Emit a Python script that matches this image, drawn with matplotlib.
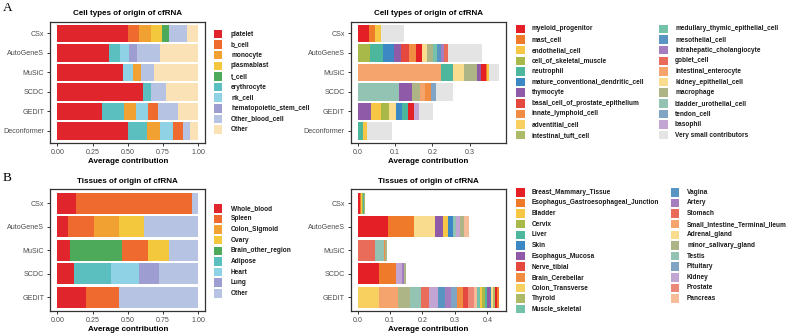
import matplotlib
matplotlib.use("Agg")
import matplotlib.pyplot as plt
from matplotlib.patches import Rectangle

plt.rcParams['font.family'] = ['Liberation Sans', 'DejaVu Sans']

W, H = 788, 336

# ---------------- data ----------------
methods_A = ["CSx", "AutoGeneS", "MuSiC", "SCDC", "GEDIT", "Deconformer"]
methods_B = ["CSx", "AutoGeneS", "MuSiC", "SCDC", "GEDIT"]

major_cells = ["platelet", "b_cell", "monocyte", "plasmablast", "t_cell", "erythrocyte",
               "nk_cell", "hematopoietic_stem_cell", "Other_blood_cell", "Other"]
major_cell_colors = ["#E0262C", "#EE6A2F", "#F0A132", "#F4C83C", "#4CAA5A", "#5BBFC0",
                     "#8FD2E6", "#9D9DD2", "#B7C3E2", "#FBE1B6"]

cellA_CSx = [("platelet", 0.504), ("b_cell", 0.078), ("monocyte", 0.080), ("plasmablast", 0.083),
             ("t_cell", 0.050), ("Other_blood_cell", 0.125), ("Other", 0.080)]
cellA_AutoGeneS = [("platelet", 0.369), ("erythrocyte", 0.076), ("nk_cell", 0.066),
                   ("hematopoietic_stem_cell", 0.057), ("Other_blood_cell", 0.161), ("Other", 0.271)]
cellA_MuSiC = [("platelet", 0.463), ("nk_cell", 0.071), ("monocyte", 0.059),
               ("Other_blood_cell", 0.092), ("Other", 0.315)]
cellA_SCDC = [("platelet", 0.610), ("erythrocyte", 0.052), ("Other_blood_cell", 0.111), ("Other", 0.227)]
cellA_GEDIT = [("platelet", 0.319), ("erythrocyte", 0.154), ("monocyte", 0.085), ("nk_cell", 0.083),
               ("b_cell", 0.076), ("Other_blood_cell", 0.142), ("Other", 0.141)]
cellA_Deconformer = [("platelet", 0.499), ("erythrocyte", 0.139), ("monocyte", 0.090), ("nk_cell", 0.095),
                     ("b_cell", 0.071), ("Other_blood_cell", 0.047), ("Other", 0.059)]

minor_cells = ["myeloid_progenitor", "mast_cell", "endothelial_cell", "cell_of_skeletal_muscle",
               "neutrophil", "mature_conventional_dendritic_cell", "thymocyte",
               "basal_cell_of_prostate_epithelium", "innate_lymphoid_cell", "adventitial_cell",
               "intestinal_tuft_cell", "medullary_thymic_epithelial_cell", "mesothelial_cell",
               "intrahepatic_cholangiocyte", "goblet_cell", "intestinal_enterocyte",
               "kidney_epithelial_cell", "macrophage", "bladder_urothelial_cell", "tendon_cell",
               "basophil", "Very small contributors"]
shared_palette = ["#E41F26", "#EF7A2A", "#F6C644", "#A8B94A", "#4DB79E", "#3B88C4", "#8F5AA8",
                  "#E5483E", "#F18C43", "#F8D060", "#ADBA68", "#75C2AA", "#5895C3", "#A57EC0",
                  "#E96B5A", "#F5A46E", "#F9DC8D", "#ADB486", "#93C3B2", "#80A5C4", "#C2A5D2",
                  "#EC8878", "#F6BB98"]
very_small_color = "#E4E4E4"

cellB_CSx = [("myeloid_progenitor", 0.029), ("mast_cell", 0.017), ("endothelial_cell", 0.016),
             ("Very small contributors", 0.063)]
cellB_AutoGeneS = [("cell_of_skeletal_muscle", 0.033), ("neutrophil", 0.034),
                   ("mature_conventional_dendritic_cell", 0.030), ("thymocyte", 0.020),
                   ("basal_cell_of_prostate_epithelium", 0.020), ("innate_lymphoid_cell", 0.018),
                   ("myeloid_progenitor", 0.016), ("kidney_epithelial_cell", 0.015),
                   ("macrophage", 0.015), ("medullary_thymic_epithelial_cell", 0.012),
                   ("mesothelial_cell", 0.011), ("intrahepatic_cholangiocyte", 0.008),
                   ("goblet_cell", 0.010), ("Very small contributors", 0.090)]
cellB_MuSiC = [("intestinal_enterocyte", 0.224), ("neutrophil", 0.031), ("kidney_epithelial_cell", 0.030),
               ("macrophage", 0.033), ("thymocyte", 0.013), ("myeloid_progenitor", 0.012),
               ("mast_cell", 0.004), ("endothelial_cell", 0.005), ("Very small contributors", 0.027)]
cellB_SCDC = [("bladder_urothelial_cell", 0.110), ("thymocyte", 0.036), ("macrophage", 0.020),
              ("intestinal_enterocyte", 0.015), ("innate_lymphoid_cell", 0.015), ("tendon_cell", 0.013),
              ("Very small contributors", 0.047)]
cellB_GEDIT = [("thymocyte", 0.035), ("endothelial_cell", 0.028), ("cell_of_skeletal_muscle", 0.022),
               ("kidney_epithelial_cell", 0.018), ("mature_conventional_dendritic_cell", 0.015),
               ("neutrophil", 0.018), ("myeloid_progenitor", 0.015), ("basophil", 0.014),
               ("Very small contributors", 0.036)]
cellB_Deconformer = [("neutrophil", 0.013), ("endothelial_cell", 0.011), ("Very small contributors", 0.067)]

major_tissues = ["Whole_blood", "Spleen", "Colon_Sigmoid", "Ovary", "Brain_other_region",
                 "Adipose", "Heart", "Lung", "Other"]
major_tissue_colors = ["#E0262C", "#EE6A2F", "#F0A132", "#F4C83C", "#4CAA5A", "#5BBFC0",
                       "#8FD2E6", "#9D9DD2", "#B7C3E2"]

tisA_CSx = [("Whole_blood", 0.132), ("Spleen", 0.825), ("Other", 0.043)]
tisA_AutoGeneS = [("Whole_blood", 0.073), ("Spleen", 0.189), ("Colon_Sigmoid", 0.175),
                  ("Ovary", 0.177), ("Other", 0.386)]
tisA_MuSiC = [("Whole_blood", 0.090), ("Brain_other_region", 0.369), ("Spleen", 0.187),
              ("Ovary", 0.144), ("Other", 0.210)]
tisA_SCDC = [("Whole_blood", 0.118), ("Adipose", 0.260), ("Heart", 0.201), ("Lung", 0.139), ("Other", 0.282)]
tisA_GEDIT = [("Whole_blood", 0.201), ("Spleen", 0.236), ("Other", 0.563)]

minor_tissues = ["Breast_Mammary_Tissue", "Esophagus_Gastroesophageal_Junction", "Bladder", "Cervix",
                 "Liver", "Skin", "Esophagus_Mucosa", "Nerve_tibial", "Brain_Cerebellar",
                 "Colon_Transverse", "Thyroid", "Muscle_skeletal", "Vagina", "Artery", "Stomach",
                 "Small_Intestine_Terminal_Ileum", "Adrenal_gland", "minor_salivary_gland", "Testis",
                 "Pituitary", "Kidney", "Prostate", "Pancreas"]

tisB_CSx = [("Breast_Mammary_Tissue", 0.007), ("Esophagus_Gastroesophageal_Junction", 0.004),
            ("Bladder", 0.003), ("Cervix", 0.003), ("Liver", 0.002), ("Thyroid", 0.003)]
tisB_AutoGeneS = [("Breast_Mammary_Tissue", 0.095), ("Esophagus_Gastroesophageal_Junction", 0.080),
                  ("Adrenal_gland", 0.064), ("Esophagus_Mucosa", 0.023), ("Bladder", 0.017),
                  ("Skin", 0.015), ("Testis", 0.010), ("Kidney", 0.012),
                  ("minor_salivary_gland", 0.013), ("Pancreas", 0.014)]
tisB_MuSiC = [("Stomach", 0.052), ("Testis", 0.029), ("Brain_Cerebellar", 0.004),
              ("minor_salivary_gland", 0.006)]
tisB_SCDC = [("Breast_Mammary_Tissue", 0.065), ("Esophagus_Gastroesophageal_Junction", 0.054),
             ("Kidney", 0.018), ("Artery", 0.007), ("minor_salivary_gland", 0.006)]
tisB_GEDIT = [("Colon_Transverse", 0.066), ("Small_Intestine_Terminal_Ileum", 0.057),
              ("minor_salivary_gland", 0.038), ("Testis", 0.034), ("Stomach", 0.026),
              ("Kidney", 0.027), ("Vagina", 0.022), ("Artery", 0.018), ("Pituitary", 0.018),
              ("Brain_Cerebellar", 0.019), ("Nerve_tibial", 0.016), ("Prostate", 0.017),
              ("Pancreas", 0.011), ("Muscle_skeletal", 0.008), ("Bladder", 0.008), ("Cervix", 0.008),
              ("Liver", 0.007), ("Esophagus_Mucosa", 0.007), ("Skin", 0.006), ("Adrenal_gland", 0.006),
              ("Thyroid", 0.006), ("Breast_Mammary_Tissue", 0.005),
              ("Esophagus_Gastroesophageal_Junction", 0.005)]

title_cell = "Cell types of origin of cfRNA"
title_tissue = "Tissues of origin of cfRNA"
xlabel = "Average contribution"

# ---------------- styling helpers ----------------
fig = plt.figure(figsize=(W / 100, H / 100), dpi=100)
TXT = "#4D4D4D"
FRAME = "#333333"


def add_ax(x0, y0, x1, y1):
    return fig.add_axes([x0 / W, 1 - y1 / H, (x1 - x0) / W, (y1 - y0) / H])


def draw_panel(ax, methods, segments, colmap, xticks, xticklabels, xmax, title):
    for i, segs in enumerate(segments):
        left = 0.0
        for cat, val in segs:
            ax.barh(i, val, left=left, height=0.9, color=colmap[cat], linewidth=0)
            left += val
    ax.set_xlim(-0.05 * xmax, 1.05 * xmax)
    ax.set_ylim(len(methods) - 0.4, -0.6)
    ax.set_yticks(range(len(methods)))
    ax.set_yticklabels(methods)
    ax.set_xticks(xticks)
    ax.set_xticklabels(xticklabels)
    ax.tick_params(axis='both', length=2.3, width=0.7, color=FRAME, labelcolor=TXT,
                   labelsize=5.1, pad=2.0)
    for s in ax.spines.values():
        s.set_color(FRAME)
        s.set_linewidth(0.9)
    ax.set_title(title, fontsize=5.8, fontweight='bold', pad=4.5)
    ax.set_xlabel(xlabel, fontsize=5.8, fontweight='bold', labelpad=1.5)


def draw_legend(x_sq, x_txt, y0, labels, colors, step=10.62, size=8.5):
    for k, (lab, col) in enumerate(zip(labels, colors)):
        yc = y0 + k * step
        fig.add_artist(Rectangle(((x_sq) / W, 1 - (yc + size / 2) / H), size / W, size / H,
                                 transform=fig.transFigure, facecolor=col, edgecolor='none'))
        fig.text(x_txt / W, 1 - yc / H, lab, fontsize=4.7, fontweight='bold',
                 va='center', ha='left', color='#1a1a1a')


cmap_major_cell = dict(zip(major_cells, major_cell_colors))
cmap_minor_cell = dict(zip(minor_cells[:-1], shared_palette))
cmap_minor_cell["Very small contributors"] = very_small_color
cmap_major_tis = dict(zip(major_tissues, major_tissue_colors))
cmap_minor_tis = dict(zip(minor_tissues, shared_palette))

# ---------------- panels ----------------
ax1 = add_ax(50.3, 21.6, 205.4, 142.7)
draw_panel(ax1, methods_A,
           [cellA_CSx, cellA_AutoGeneS, cellA_MuSiC, cellA_SCDC, cellA_GEDIT, cellA_Deconformer],
           cmap_major_cell, [0, 0.25, 0.5, 0.75, 1.0], ["0.00", "0.25", "0.50", "0.75", "1.00"],
           1.0, title_cell)

ax2 = add_ax(350.6, 21.6, 506.0, 142.7)
draw_panel(ax2, methods_A,
           [cellB_CSx, cellB_AutoGeneS, cellB_MuSiC, cellB_SCDC, cellB_GEDIT, cellB_Deconformer],
           cmap_minor_cell, [0, 0.1, 0.2, 0.3], ["0.0", "0.1", "0.2", "0.3"], 0.378, title_cell)

ax3 = add_ax(50.3, 189.2, 205.4, 311.4)
draw_panel(ax3, methods_B, [tisA_CSx, tisA_AutoGeneS, tisA_MuSiC, tisA_SCDC, tisA_GEDIT],
           cmap_major_tis, [0, 0.25, 0.5, 0.75, 1.0], ["0.00", "0.25", "0.50", "0.75", "1.00"],
           1.0, title_tissue)

ax4 = add_ax(350.6, 189.2, 506.0, 311.4)
draw_panel(ax4, methods_B, [tisB_CSx, tisB_AutoGeneS, tisB_MuSiC, tisB_SCDC, tisB_GEDIT],
           cmap_minor_tis, [0, 0.1, 0.2, 0.3, 0.4], ["0.0", "0.1", "0.2", "0.3", "0.4"], 0.436,
           title_tissue)

# ---------------- legends ----------------
draw_legend(214, 231, 34.0, major_cells, major_cell_colors)
cell_cols = [cmap_minor_cell[c] for c in minor_cells]
draw_legend(516, 532, 29.0, minor_cells[:11], cell_cols[:11])
draw_legend(659, 675, 29.0, minor_cells[11:], cell_cols[11:])

draw_legend(214, 231, 208.3, major_tissues, major_tissue_colors)
tis_cols = [cmap_minor_tis[c] for c in minor_tissues]
draw_legend(516, 532, 192.3, minor_tissues[:12], tis_cols[:12])
draw_legend(670.7, 687, 192.3, minor_tissues[12:], tis_cols[12:])

# panel letters
fig.text(3 / W, 1 - 8 / H, "A", fontsize=9.5, family='Liberation Serif', va='center', ha='left')
fig.text(3 / W, 1 - 178 / H, "B", fontsize=9.5, family='Liberation Serif', va='center', ha='left')

fig.savefig("out.png", dpi=100, facecolor='white')
